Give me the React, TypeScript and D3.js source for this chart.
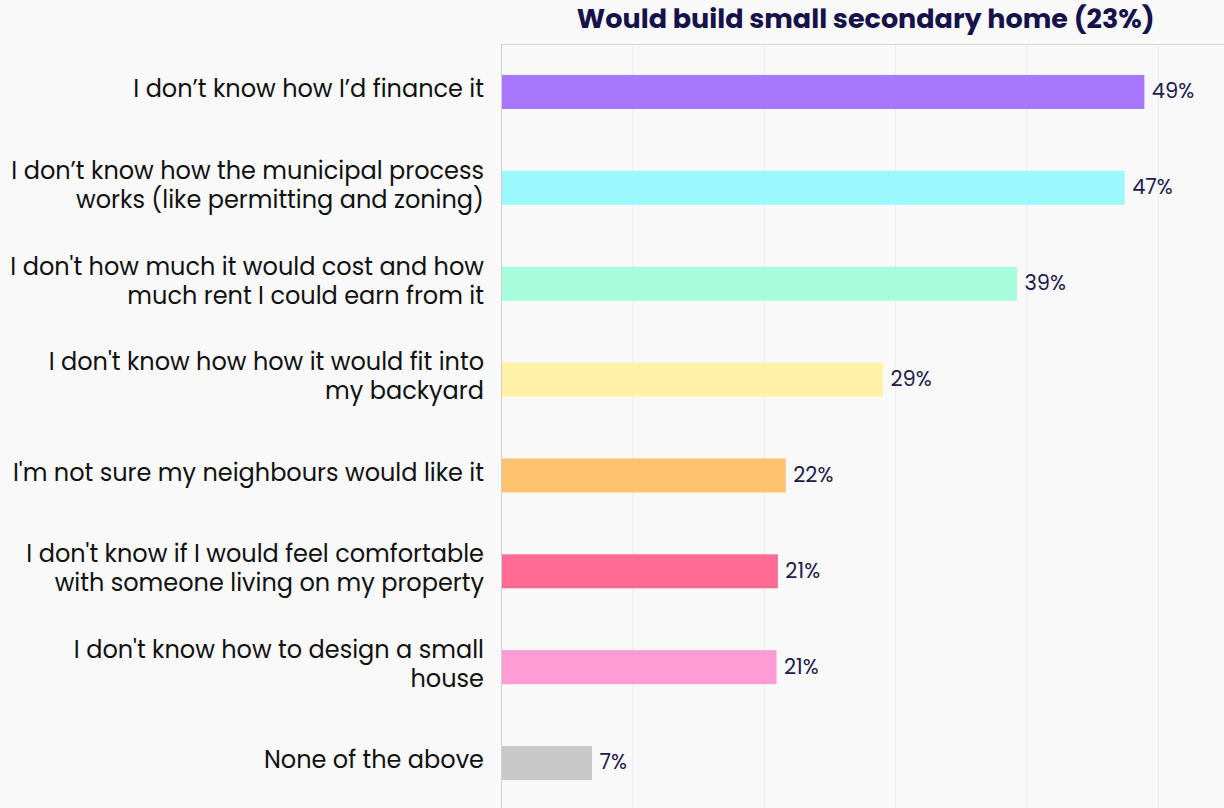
import React from "react";
import * as d3 from "d3";

const categories: string[][] = [
  ["I don’t know how I’d finance it"],
  ["I don’t know how the municipal process", "works (like permitting and zoning)"],
  ["I don't how much it would cost and how", "much rent I could earn from it"],
  ["I don't know how how it would fit into", "my backyard"],
  ["I'm not sure my neighbours would like it"],
  ["I don't know if I would feel comfortable", "with someone living on my property"],
  ["I don't know how to design a small", "house"],
  ["None of the above"],
];
const values: number[] = [48.9, 47.4, 39.2, 29.0, 21.6, 21.0, 20.9, 6.85];
const colors: string[] = [
  "#a777fd",
  "#9bf9fe",
  "#a6fcdc",
  "#fff2a4",
  "#ffc36f",
  "#ff6b92",
  "#ff9bd5",
  "#c8c8c8",
];
const gridTicks: number[] = [10, 20, 30, 40, 50];
const title = "Would build small secondary home (23%)";

const W = 1224;
const H = 808;

export default function App() {
  const left = 501.5;
  const right = 1224;
  const top = 44;
  const bottom = 811;
  const x = d3.scaleLinear().domain([0, 55]).range([left, right]);
  const y = d3
    .scaleBand<number>()
    .domain(d3.range(values.length))
    .range([top, bottom])
    .padding(0);
  const barH = y.bandwidth() * 0.355;
  const font = "Poppins, 'Open Sans', Lato, sans-serif";
  const lineH = 29;

  return (
    <svg
      width={W}
      height={H}
      style={{ position: "absolute", left: 0, top: 0, display: "block" }}
    >
      <rect x={0} y={0} width={W} height={H} fill="#f9f9f9" />
      <text
        x={(left + right) / 2 + 3}
        y={28}
        textAnchor="middle"
        fontFamily={font}
        fontWeight={700}
        fontSize={27}
        fill="#16124a"
      >
        {title}
      </text>
      {gridTicks.map((t) => (
        <line
          key={t}
          x1={x(t)}
          x2={x(t)}
          y1={top}
          y2={H}
          stroke="#ececec"
          strokeWidth={1}
        />
      ))}
      <line x1={left} x2={right} y1={top + 0.5} y2={top + 0.5} stroke="#d6d6d6" />
      <line x1={left} x2={left} y1={top} y2={H} stroke="#cfcfcf" />
      {values.map((v, i) => {
        const cy = (y(i) as number) + y.bandwidth() / 2;
        const lines = categories[i];
        const startY = cy - 3 - ((lines.length - 1) * lineH) / 2;
        return (
          <g key={i}>
            <rect
              x={x(0) + 0.5}
              y={cy - barH / 2}
              width={x(v) - x(0)}
              height={barH}
              fill={colors[i]}
            />
            <text
              x={x(v) + 8}
              y={cy - 1}
              dy="0.35em"
              fontFamily={font}
              fontSize={21}
              fill="#1e1a4c"
            >
              {Math.round(v)}%
            </text>
            <text
              x={484}
              textAnchor="end"
              fontFamily={font}
              fontSize={24}
              fill="#111"
            >
              {lines.map((l, j) => (
                <tspan key={j} x={484} y={startY + j * lineH} dy="0.35em">
                  {l}
                </tspan>
              ))}
            </text>
          </g>
        );
      })}
    </svg>
  );
}
